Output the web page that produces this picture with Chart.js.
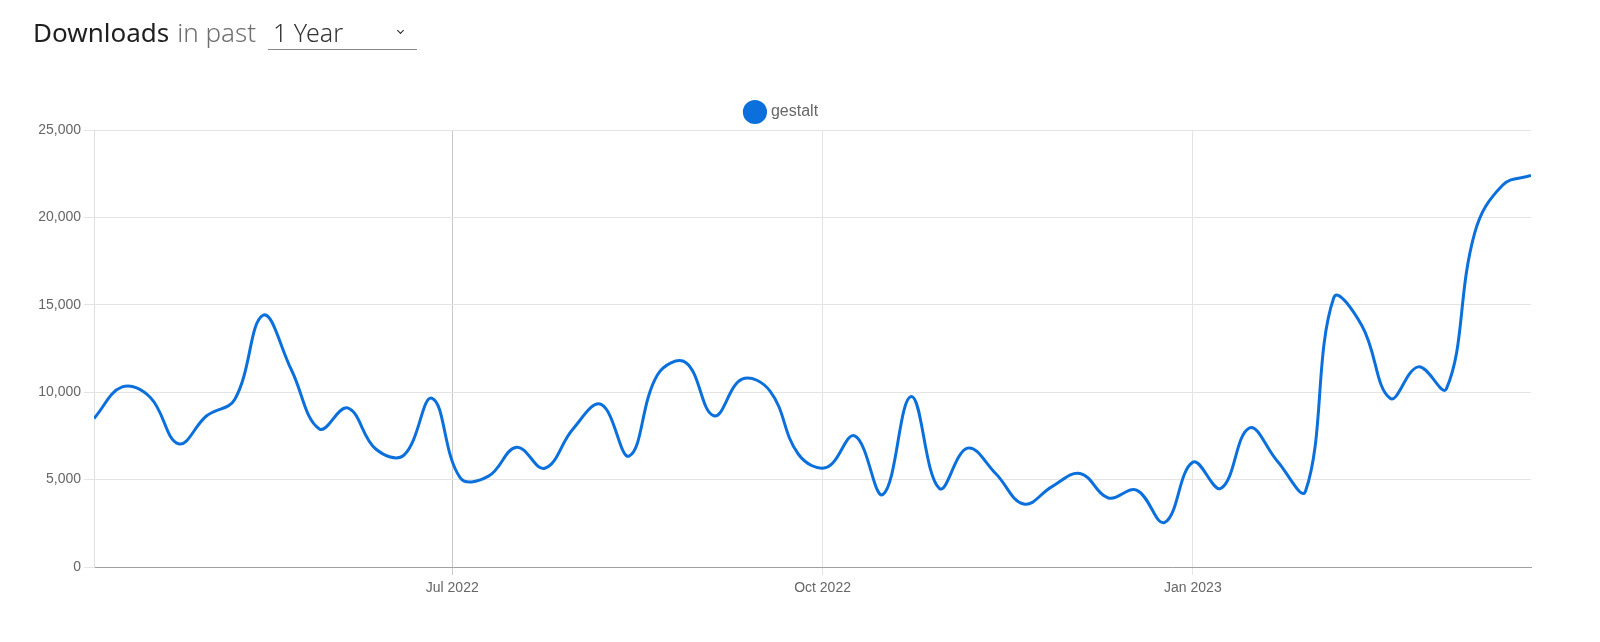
<!DOCTYPE html>
<html lang="en">

<head>
    <meta charset="UTF-8">
    <title>gestalt downloads</title>
    <script src="https://cdn.jsdelivr.net/npm/chart.js"></script>
</head>
<style>
body {
    margin: 0;
    padding: 0;
    background: #fff;
    width: 1600px;
    height: 642px;
    overflow: hidden;
    position: relative;
}

.header {
    position: absolute;
    left: 33px;
    top: 19px;
    display: flex;
    align-items: baseline;
    font-family: "Noto Sans", "Open Sans", sans-serif;
    font-size: 26px;
    line-height: 1;
    z-index: 2;
}

.header .title {
    color: #1f1f1f;
}

.header .muted {
    color: #6f6f6f;
    margin-left: 8px;
    font-weight: 300;
}

.select {
    position: absolute;
    left: 268px;
    top: 14px;
    width: 149px;
    height: 35px;
    border-bottom: 1px solid #8a8a8a;
    font-family: "Noto Sans", "Open Sans", sans-serif;
    font-size: 25px;
    color: #333;
    font-weight: 300;
    z-index: 2;
}

.select span {
    position: absolute;
    left: 5px;
    top: 1px;
}

.select .chev {
    position: absolute;
    left: 130px;
    top: 14px;
    width: 4px;
    height: 4px;
    border-right: 1.5px solid #222;
    border-bottom: 1.5px solid #222;
    transform: rotate(45deg);
}

.chart-box {
    position: absolute;
    left: 0;
    top: 0;
    width: 1600px;
    height: 642px;
}
</style>
<body>

    <div class="header">
        <span class="title">Downloads</span>
        <span class="muted">in past</span>
    </div>
    <div class="select"><span>1 Year</span><i class="chev"></i></div>

    <div class="chart-box">
        <canvas id="downloadsChart"></canvas>
    </div>

    <script>
        // weekly download counts (week starting dates)
        const weeks = [
            '2022-04-03', '2022-04-10', '2022-04-17', '2022-04-24',
            '2022-05-01', '2022-05-08', '2022-05-15', '2022-05-22', '2022-05-29',
            '2022-06-05', '2022-06-12', '2022-06-19', '2022-06-26',
            '2022-07-03', '2022-07-10', '2022-07-17', '2022-07-24', '2022-07-31',
            '2022-08-07', '2022-08-14', '2022-08-21', '2022-08-28',
            '2022-09-04', '2022-09-11', '2022-09-18', '2022-09-25',
            '2022-10-02', '2022-10-09', '2022-10-16', '2022-10-23', '2022-10-30',
            '2022-11-06', '2022-11-13', '2022-11-20', '2022-11-27',
            '2022-12-04', '2022-12-11', '2022-12-18', '2022-12-25',
            '2023-01-01', '2023-01-08', '2023-01-15', '2023-01-22', '2023-01-29',
            '2023-02-05', '2023-02-12', '2023-02-19', '2023-02-26',
            '2023-03-05', '2023-03-12', '2023-03-19', '2023-03-26'
        ];

        const gestalt = [
            8500, 10300, 9700, 7050,
            8650, 9600, 14400, 11300, 7900,
            9100, 6750, 6400, 9650,
            5100, 5200, 6850, 5650, 7900,
            9300, 6350, 11000, 11700,
            8650, 10750, 10050, 6450,
            5700, 7500, 4150, 9750, 4500,
            6800, 5350, 3600, 4600,
            5350, 3950, 4400, 2550,
            6000, 4500, 7950, 6050, 4350,
            15400, 13800, 9650, 11450,
            10200, 19100, 21850, 22400
        ];

        const tickDates = ['2022-07-01', '2022-10-01', '2023-01-01'];
        const tickLabels = ['Jul 2022', 'Oct 2022', 'Jan 2023'];
        const yTicks = [0, 5000, 10000, 15000, 20000, 25000];

        const lineColor = '#0b70db';
        const tickTimes = tickDates.map(d => Date.parse(d));

        // nudge the legend to the right, like the original
        const legendShift = {
            id: 'legendShift',
            afterLayout(chart) {
                chart.legend.left += 17;
                chart.legend.right += 17;
            }
        };

        const ctx = document.getElementById('downloadsChart').getContext('2d');
        const downloadsChart = new Chart(ctx, {
            type: 'line',
            data: {
                datasets: [{
                    label: 'gestalt',
                    data: weeks.map((w, i) => ({ x: Date.parse(w), y: gestalt[i] })),
                    borderColor: lineColor,
                    backgroundColor: lineColor,
                    borderWidth: 3,
                    tension: 0.4,
                    pointRadius: 0,
                    pointStyle: 'circle',
                    fill: false
                }]
            },
            options: {
                responsive: true,
                maintainAspectRatio: false,
                animation: false,
                layout: {
                    padding: { top: 93, left: 0, right: 69, bottom: 0 }
                },
                plugins: {
                    legend: {
                        position: 'top',
                        labels: {
                            usePointStyle: true,
                            boxHeight: 15,
                            padding: 11,
                            color: '#666',
                            font: { family: 'Liberation Sans, Arial, sans-serif', size: 16 }
                        }
                    },
                    tooltip: { enabled: false }
                },
                scales: {
                    x: {
                        type: 'linear',
                        min: Date.parse(weeks[0]),
                        max: Date.parse(weeks[weeks.length - 1]),
                        afterBuildTicks: scale => {
                            scale.ticks = tickTimes.map(v => ({ value: v }));
                        },
                        afterFit: scale => {
                            scale.height = 75;
                        },
                        ticks: {
                            color: '#666',
                            padding: 5,
                            maxRotation: 0,
                            font: { family: 'Liberation Sans, Arial, sans-serif', size: 14 },
                            callback: (v) => tickLabels[tickTimes.indexOf(v)]
                        },
                        grid: {
                            color: ctx => ctx.index === 0 ? '#c8c8c8' : '#e4e4e4',
                            tickLength: 8
                        },
                        border: { color: '#a0a0a0', width: 1 }
                    },
                    y: {
                        min: 0,
                        max: 25000,
                        afterBuildTicks: scale => {
                            scale.ticks = yTicks.map(v => ({ value: v }));
                        },
                        afterFit: scale => {
                            scale.width = 94;
                        },
                        ticks: {
                            color: '#666',
                            padding: 3,
                            font: { family: 'Liberation Sans, Arial, sans-serif', size: 14 },
                            callback: v => v.toLocaleString('en-US')
                        },
                        grid: {
                            color: '#e4e4e4',
                            tickLength: 10
                        },
                        border: { color: '#e0e0e0', width: 1 }
                    }
                }
            },
            plugins: [legendShift]
        });
    </script>

</body>

</html>
